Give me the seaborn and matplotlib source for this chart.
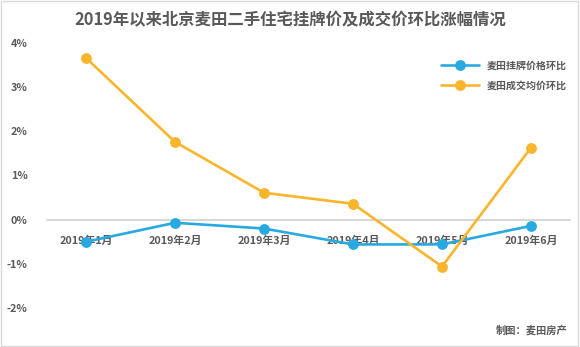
import matplotlib
matplotlib.use("Agg")
import matplotlib.pyplot as plt
from matplotlib.patches import Rectangle
import seaborn as sns
import pandas as pd

months = ["2019年1月", "2019年2月", "2019年3月", "2019年4月", "2019年5月", "2019年6月"]
listing_mom = [-0.50, -0.07, -0.20, -0.56, -0.56, -0.14]
deal_mom = [3.66, 1.76, 0.61, 0.36, -1.06, 1.63]
series_names = ["麦田挂牌价格环比", "麦田成交均价环比"]
y_ticks = [-2, -1, 0, 1, 2, 3, 4]

sns.set_theme(style="white")
plt.rcParams["font.family"] = ["Noto Sans CJK SC", "DejaVu Sans"]

df = pd.DataFrame({
    "month": months * 2,
    "idx": list(range(len(months))) * 2,
    "value": listing_mom + deal_mom,
    "series": [series_names[0]] * len(months) + [series_names[1]] * len(months),
})

fig = plt.figure(figsize=(5.8, 3.47), dpi=100)
ax = fig.add_axes([41.5 / 580, 1 - 316 / 347, 534 / 580, 281 / 347])

palette = {series_names[0]: "#29A9E1", series_names[1]: "#F9B52C"}
sns.lineplot(data=df, x="idx", y="value", hue="series", palette=palette,
             marker="o", markersize=7.8, markeredgewidth=0, linewidth=1.9,
             ax=ax, legend=True)

ax.set_xlim(-0.5, len(months) - 0.5)
ax.set_ylim(-2.18, 4.18)
ax.axhline(0, color="#CFCFCF", linewidth=1.2, zorder=0, xmin=0.01, xmax=0.99)

for s in ax.spines.values():
    s.set_visible(False)

ax.set_yticks(y_ticks)
ax.set_yticklabels([f"{t}%" for t in y_ticks], fontsize=7.8, color="#595959",
                   fontweight="bold")
ax.tick_params(axis="y", length=0, pad=10)
ax.set_xticks([])
ax.set_xlabel("")
ax.set_ylabel("")

# category labels sit just under the zero line
for i, m in enumerate(months):
    ax.text(i, -0.47, m, ha="center", va="center", fontsize=7.8,
            color="#595959", fontweight="bold", zorder=1)

leg = ax.legend(loc="upper right", bbox_to_anchor=(1.0, 0.94), frameon=False,
                fontsize=7.2, handlelength=3.8, labelspacing=1.0)
for t in leg.get_texts():
    t.set_color("#595959")
    t.set_fontweight("bold")

fig.text(0.5, 1 - 20 / 347, "2019年以来北京麦田二手住宅挂牌价及成交价环比涨幅情况",
         ha="center", va="center", fontsize=11.8, fontweight="bold", color="#595959")
fig.text(1 - 12 / 580, 1 - 330 / 347, "制图：麦田房产", ha="right", va="center",
         fontsize=7.4, fontweight="bold", color="#595959")

fig.patches.append(Rectangle((0.002, 0.003), 0.995, 0.994, transform=fig.transFigure,
                             fill=False, edgecolor="#D9D9D9", linewidth=1))

fig.savefig("out.png", dpi=100)
